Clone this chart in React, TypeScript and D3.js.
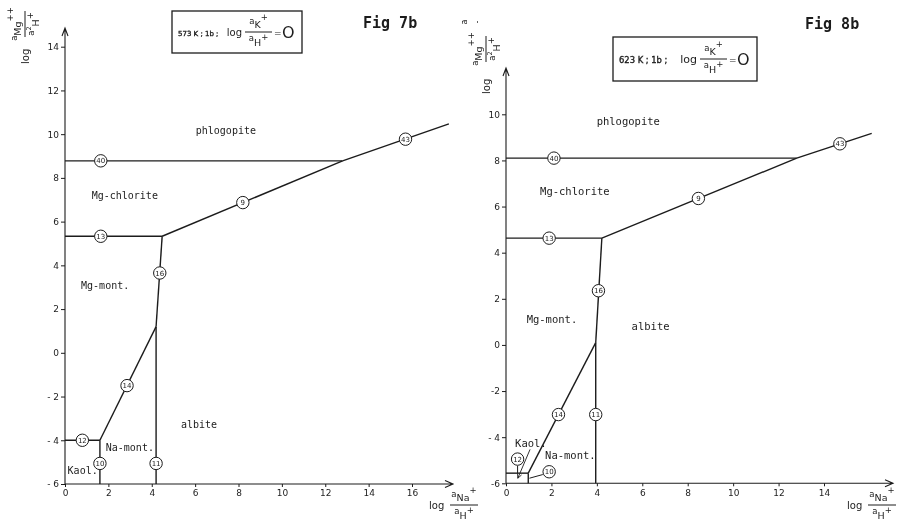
import React, { useEffect, useRef } from 'react';
import * as d3 from 'd3';

type Pt = [number, number];

// ---- Fig 7b : 573 K ----
const fig7Lines: Pt[][] = [
  [[0, 8.78], [12.8, 8.78]],     // 40
  [[12.8, 8.78], [17.7, 10.47]], // 43
  [[4.48, 5.33], [12.8, 8.78]],  // 9
  [[0, 5.33], [4.48, 5.33]],     // 13
  [[4.48, 5.33], [4.2, 1.2]],    // 16
  [[4.2, 1.2], [4.2, -6]],       // 11
  [[1.61, -4], [4.2, 1.2]],      // 14
  [[0, -4], [1.61, -4]],         // 12
  [[1.61, -4], [1.61, -6]],      // 10
];
const fig7Reactions = ['40', '43', '9', '13', '16', '14', '12', '10', '11'];
const fig7ReactionPts: Pt[] = [[1.65, 8.78], [15.7, 9.77], [8.2, 6.87], [1.65, 5.33], [4.37, 3.65], [2.86, -1.5], [0.8, -4], [1.61, -5.06], [4.2, -5.06]];
const fig7Fields = ['phlogopite', 'Mg-chlorite', 'Mg-mont.', 'albite', 'Na-mont.', 'Kaol.'];
const fig7FieldPts: Pt[] = [[6.03, 10.19], [1.23, 7.18], [0.74, 3.1], [5.35, -3.3], [1.88, -4.31], [0.12, -5.38]];
const fig7XTicks = [0, 2, 4, 6, 8, 10, 12, 14, 16];
const fig7YTicks = [-6, -4, -2, 0, 2, 4, 6, 8, 10, 12, 14];
const fig7YLabels = ['- 6', '- 4', '- 2', '0', '2', '4', '6', '8', '10', '12', '14'];

// ---- Fig 8b : 623 K ----
const fig8Lines: Pt[][] = [
  [[0, 8.1], [12.8, 8.1]],       // 40
  [[12.8, 8.1], [16.1, 9.17]],   // 43
  [[4.22, 4.63], [12.8, 8.1]],   // 9
  [[0, 4.63], [4.22, 4.63]],     // 13
  [[4.22, 4.63], [3.95, 0.1]],   // 16
  [[3.95, 0.1], [3.95, -6]],     // 11
  [[0.98, -5.56], [3.95, 0.1]],  // 14
  [[0, -5.56], [0.98, -5.56]],   // 12
  [[0.98, -5.56], [0.98, -6]],   // 10
];
const fig8Leaders: Pt[][] = [
  [[0.51, -5.24], [0.51, -5.56]],
  [[1.03, -5.78], [1.62, -5.62]],
];
const fig8KaolArrow: Pt[] = [[1.06, -4.53], [0.52, -5.78]];
const fig8Reactions = ['40', '43', '9', '13', '16', '14', '11', '12', '10'];
const fig8ReactionPts: Pt[] = [[2.11, 8.1], [14.7, 8.72], [8.47, 6.35], [1.9, 4.63], [4.07, 2.35], [2.31, -3.02], [3.95, -3.02], [0.51, -4.95], [1.9, -5.5]];
const fig8Fields = ['phlogopite', 'Mg-chlorite', 'Mg-mont.', 'albite', 'Na-mont.', 'Kaol.'];
const fig8FieldPts: Pt[] = [[3.99, 9.68], [1.5, 6.65], [0.91, 1.11], [5.53, 0.79], [1.72, -4.77], [0.4, -4.27]];
const fig8XTicks = [0, 2, 4, 6, 8, 10, 12, 14];
const fig8YTicks = [-6, -4, -2, 0, 2, 4, 6, 8, 10];
const fig8YLabels = ['-6', '- 4', '-2', '0', '2', '4', '6', '8', '10'];

const INK = '#1c1c1c';
const MONO = '"DejaVu Sans Mono", "Liberation Mono", monospace';
const SANS = '"DejaVu Sans", "Liberation Sans", sans-serif';

type Sel = d3.Selection<any, unknown, null, undefined>;

// a_{sub}^{sup}; the sub is dropped by subDy, the charge raised by supDy
function activity(g: Sel, x: number, y: number, sub: string, sup: string, subDy: number, supDy: number, pre?: string) {
  const t = g.append('text').attr('x', x).attr('y', y).attr('text-anchor', 'middle')
    .attr('font-family', SANS).attr('fill', INK);
  t.append('tspan').attr('font-size', 8.5).text('a');
  if (pre) t.append('tspan').attr('font-size', 6.5).attr('dy', -3).text(pre);
  t.append('tspan').attr('font-size', 9.5).attr('dy', pre ? subDy + 3 : subDy).text(sub);
  t.append('tspan').attr('font-size', 8.5).attr('dy', supDy).text(sup);
  return t;
}

function fraction(g: Sel, x: number, y: number, w: number, num: [string, string], den: [string, string], denPre?: string) {
  g.append('line').attr('x1', x).attr('x2', x + w).attr('y1', y).attr('y2', y)
    .attr('stroke', INK).attr('stroke-width', 1);
  activity(g, x + w / 2, y - 8, num[0], num[1], 4, -8);
  activity(g, x + w / 2, y + 9, den[0], den[1], 5, -6, denPre);
}

interface Panel {
  xRange: [number, number]; xMax: number;
  yRange: [number, number]; yMax: number;
  xArrow: number; yArrow: number;
  xTicks: number[]; yTicks: number[]; yLabels: string[];
  lines: Pt[][]; reactions: string[]; reactionPts: Pt[];
  fields: string[]; fieldPts: Pt[]; fieldSize: number;
}

function drawPanel(svg: Sel, p: Panel) {
  const x = d3.scaleLinear().domain([0, p.xMax]).range(p.xRange);
  const y = d3.scaleLinear().domain([-6, p.yMax]).range(p.yRange);
  const g = svg.append('g');

  const xAxis = d3.axisBottom(x).tickValues(p.xTicks).tickFormat(d3.format('d') as any)
    .tickSize(3).tickPadding(3).tickSizeOuter(0);
  const yAxis = d3.axisLeft(y).tickValues(p.yTicks).tickFormat((_d, i) => p.yLabels[i])
    .tickSize(4).tickPadding(2).tickSizeOuter(0);

  [g.append('g').attr('transform', `translate(0,${y(-6)})`).call(xAxis),
   g.append('g').attr('transform', `translate(${x(0)},0)`).call(yAxis)].forEach(a => {
    a.select('.domain').remove();
    a.attr('font-family', SANS).attr('font-size', 9);
    a.selectAll('line').attr('stroke', INK);
    a.selectAll('text').attr('fill', INK);
  });

  // axis lines with open arrowheads
  const ax0 = x(0), ay0 = y(-6);
  g.append('path')
    .attr('d', `M${ax0},${ay0}H${p.xArrow}M${p.xArrow - 8},${ay0 - 3.5}L${p.xArrow},${ay0}L${p.xArrow - 8},${ay0 + 3.5}`)
    .attr('fill', 'none').attr('stroke', INK).attr('stroke-width', 1.1);
  g.append('path')
    .attr('d', `M${ax0},${ay0}V${p.yArrow}M${ax0 - 3},${p.yArrow + 8}L${ax0},${p.yArrow}L${ax0 + 3},${p.yArrow + 8}`)
    .attr('fill', 'none').attr('stroke', INK).attr('stroke-width', 1.1);

  const line = d3.line<Pt>().x(d => x(d[0])).y(d => y(d[1]));
  g.selectAll('path.bound').data(p.lines).join('path').attr('class', 'bound')
    .attr('d', d => line(d)).attr('fill', 'none').attr('stroke', INK).attr('stroke-width', 1.4);

  const r = g.selectAll('g.rx').data(p.reactions).join('g').attr('class', 'rx')
    .attr('transform', (_d, i) => `translate(${x(p.reactionPts[i][0])},${y(p.reactionPts[i][1])})`);
  r.append('circle').attr('r', 6.2).attr('fill', '#fff').attr('stroke', INK).attr('stroke-width', 1);
  r.append('text').attr('text-anchor', 'middle').attr('dy', '0.36em').attr('font-family', SANS)
    .attr('font-size', 7).attr('fill', INK).text(d => d);

  g.selectAll('text.field').data(p.fields).join('text').attr('class', 'field')
    .attr('x', (_d, i) => x(p.fieldPts[i][0])).attr('y', (_d, i) => y(p.fieldPts[i][1]))
    .attr('dy', '0.35em').attr('font-family', MONO).attr('font-size', p.fieldSize)
    .attr('fill', INK).text(d => d);

  return { x, y, g, line };
}

function yTitle(svg: Sel, ox: number, oy: number, gap: number) {
  const g = svg.append('g').attr('transform', `translate(${ox},${oy}) rotate(-90)`);
  g.append('text').attr('x', 0).attr('y', 3.5).attr('font-family', SANS).attr('font-size', 10)
    .attr('fill', INK).text('log');
  fraction(g, 17 + gap, 0, 26, ['Mg', '++'], ['H', '+'], '2');
  return g;
}

function xTitle(svg: Sel, x: number, y: number) {
  const g = svg.append('g');
  g.append('text').attr('x', x).attr('y', y + 4).attr('font-family', SANS).attr('font-size', 10)
    .attr('fill', INK).text('log');
  fraction(g, x + 21, y, 28, ['Na', '+'], ['H', '+']);
}

function condBox(svg: Sel, bx: number, by: number, bw: number, bh: number, temp: string, condSize: number, logSize: number) {
  const g = svg.append('g');
  g.append('rect').attr('x', bx).attr('y', by).attr('width', bw).attr('height', bh)
    .attr('fill', 'none').attr('stroke', INK).attr('stroke-width', 1.3);
  const cy = by + bh / 2;
  const fx = bx + bw - 57;
  g.append('text').attr('x', bx + 6).attr('y', cy + 3.5).attr('font-family', SANS)
    .attr('font-size', condSize).attr('fill', INK).attr('stroke', INK).attr('stroke-width', 0.35)
    .text(`${temp} K ; 1b ;`);
  g.append('text').attr('x', fx - 3).attr('y', cy + 3.5).attr('text-anchor', 'end')
    .attr('font-family', SANS).attr('font-size', logSize).attr('fill', INK).text('log');
  fraction(g, fx, cy, 27, ['K', '+'], ['H', '+']);
  g.append('text').attr('x', fx + 29).attr('y', cy + 3.5).attr('font-family', SANS).attr('font-size', 9)
    .attr('fill', INK).text('=');
  g.append('text').attr('x', fx + 37).attr('y', cy + 6).attr('font-family', SANS).attr('font-size', 16)
    .attr('fill', INK).text('O');
}

function Diagrams() {
  const ref = useRef<SVGSVGElement>(null);

  useEffect(() => {
    document.body.style.margin = '0';
    const svg = d3.select(ref.current) as Sel;
    svg.selectAll('*').remove();
    svg.append('rect').attr('width', 902).attr('height', 529).attr('fill', '#fff');

    drawPanel(svg, {
      xRange: [65, 412], xMax: 16, yRange: [484, 46.7], yMax: 14,
      xArrow: 453, yArrow: 28,
      xTicks: fig7XTicks, yTicks: fig7YTicks, yLabels: fig7YLabels,
      lines: fig7Lines, reactions: fig7Reactions, reactionPts: fig7ReactionPts,
      fields: fig7Fields, fieldPts: fig7FieldPts, fieldSize: 10,
    });

    const right = drawPanel(svg, {
      xRange: [506, 824], xMax: 14, yRange: [483.3, 114.3], yMax: 10,
      xArrow: 893, yArrow: 68,
      xTicks: fig8XTicks, yTicks: fig8YTicks, yLabels: fig8YLabels,
      lines: fig8Lines, reactions: fig8Reactions, reactionPts: fig8ReactionPts,
      fields: fig8Fields, fieldPts: fig8FieldPts, fieldSize: 10.5,
    });
    // leaders and the Kaol. pointer in the small corner field
    right.g.selectAll('path.lead').data(fig8Leaders).join('path').attr('class', 'lead')
      .attr('d', d => right.line(d)).attr('fill', 'none').attr('stroke', INK).attr('stroke-width', 1);
    const [k0, k1] = fig8KaolArrow.map(d => [right.x(d[0]), right.y(d[1])]);
    const ang = Math.atan2(k1[1] - k0[1], k1[0] - k0[0]);
    const hx = (a: number) => k1[0] - 5 * Math.cos(ang + a);
    const hy = (a: number) => k1[1] - 5 * Math.sin(ang + a);
    right.g.append('path')
      .attr('d', `M${k0[0]},${k0[1]}L${k1[0]},${k1[1]}M${hx(0.45)},${hy(0.45)}L${k1[0]},${k1[1]}L${hx(-0.45)},${hy(-0.45)}`)
      .attr('fill', 'none').attr('stroke', INK).attr('stroke-width', 0.9);

    yTitle(svg, 25, 64, 10);
    yTitle(svg, 486, 94, 15);
    // stray scan marks above the right y title
    svg.append('text').attr('transform', 'translate(467,22) rotate(-90)').attr('font-family', SANS)
      .attr('font-size', 8).attr('fill', INK).attr('text-anchor', 'middle').text('a');
    svg.append('text').attr('transform', 'translate(480,22) rotate(-90)').attr('font-family', SANS)
      .attr('font-size', 8).attr('fill', INK).attr('text-anchor', 'middle').text('-');

    xTitle(svg, 429, 505);
    xTitle(svg, 847, 505);

    condBox(svg, 172, 11, 130, 42, '573', 7, 10);
    condBox(svg, 613, 37, 144, 44, '623', 8.4, 11);

    svg.append('text').attr('x', 363).attr('y', 28).attr('font-family', MONO).attr('font-size', 15)
      .attr('font-weight', 'bold').attr('fill', INK).text('Fig 7b');
    svg.append('text').attr('x', 805).attr('y', 29).attr('font-family', MONO).attr('font-size', 15)
      .attr('font-weight', 'bold').attr('fill', INK).text('Fig 8b');
  }, []);

  return <svg ref={ref} width={902} height={529} style={{ display: 'block', willChange: 'transform' }} />;
}

export default function App() {
  return <Diagrams />;
}
